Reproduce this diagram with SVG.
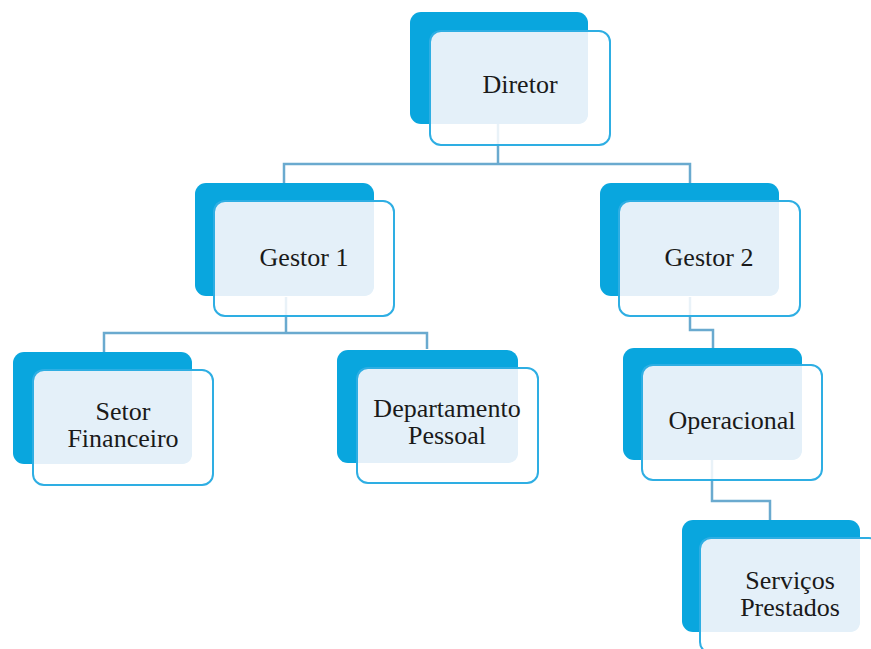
<svg xmlns="http://www.w3.org/2000/svg" width="871" height="649" viewBox="0 0 871 649">
<style>
.back{fill:#09A6DE}
.front{fill:#FFFFFF;fill-opacity:0.85}
.frame{fill:none;stroke:#2EAEE3;stroke-width:2}
.light{fill:#E4F0F9}
.conn{fill:none;stroke:#6AAACF;stroke-width:2.5}
</style>
<rect width="871" height="649" fill="#FFFFFF"/>
<g id="connectors">
<path class="conn" d="M498,123 V164 M284,183 V164 H690 V183"/>
<path class="conn" d="M286,297 V333 M104,352 V333 H427 V349"/>
<path class="conn" d="M690,297 V330 H713 V348"/>
<path class="conn" d="M712,460 V501 H770 V520"/>
</g>
<g id="n-diretor">
<rect class="back" x="410" y="12" width="178" height="112" rx="11"/>
<rect class="front" x="430" y="31" width="180" height="114" rx="11"/>
<path class="light" d="M441,31 H588 V113 Q588,124 577,124 H430 V42 Q430,31 441,31 Z"/>
<rect class="frame" x="430" y="31" width="180" height="114" rx="11"/>
<text x="520" y="93" font-family="Liberation Serif" font-size="26" text-anchor="middle" fill="#1a1a1a">Diretor</text>
</g>
<g id="n-gestor1">
<rect class="back" x="195" y="183" width="179" height="113" rx="11"/>
<rect class="front" x="214" y="201" width="180" height="115" rx="11"/>
<path class="light" d="M225,201 H374 V285 Q374,296 363,296 H214 V212 Q214,201 225,201 Z"/>
<rect class="frame" x="214" y="201" width="180" height="115" rx="11"/>
<text x="304" y="266" font-family="Liberation Serif" font-size="26" text-anchor="middle" fill="#1a1a1a">Gestor 1</text>
</g>
<g id="n-gestor2">
<rect class="back" x="600" y="183" width="179" height="113" rx="11"/>
<rect class="front" x="619" y="201" width="181" height="115" rx="11"/>
<path class="light" d="M630,201 H779 V285 Q779,296 768,296 H619 V212 Q619,201 630,201 Z"/>
<rect class="frame" x="619" y="201" width="181" height="115" rx="11"/>
<text x="709" y="266" font-family="Liberation Serif" font-size="26" text-anchor="middle" fill="#1a1a1a">Gestor 2</text>
</g>
<g id="n-setor">
<rect class="back" x="13" y="352" width="179" height="112" rx="11"/>
<rect class="front" x="33" y="370" width="180" height="115" rx="11"/>
<path class="light" d="M44,370 H192 V453 Q192,464 181,464 H33 V381 Q33,370 44,370 Z"/>
<rect class="frame" x="33" y="370" width="180" height="115" rx="11"/>
<text x="123" y="420" font-family="Liberation Serif" font-size="26" text-anchor="middle" fill="#1a1a1a">Setor</text>
<text x="123" y="447" font-family="Liberation Serif" font-size="26" text-anchor="middle" fill="#1a1a1a">Financeiro</text>
</g>
<g id="n-depto">
<rect class="back" x="337" y="350" width="181" height="113" rx="11"/>
<rect class="front" x="357" y="368" width="181" height="115" rx="11"/>
<path class="light" d="M368,368 H518 V452 Q518,463 507,463 H357 V379 Q357,368 368,368 Z"/>
<rect class="frame" x="357" y="368" width="181" height="115" rx="11"/>
<text x="447" y="417" font-family="Liberation Serif" font-size="26" text-anchor="middle" fill="#1a1a1a">Departamento</text>
<text x="447" y="444" font-family="Liberation Serif" font-size="26" text-anchor="middle" fill="#1a1a1a">Pessoal</text>
</g>
<g id="n-operacional">
<rect class="back" x="623" y="348" width="179" height="112" rx="11"/>
<rect class="front" x="642" y="365" width="180" height="115" rx="11"/>
<path class="light" d="M653,365 H802 V449 Q802,460 791,460 H642 V376 Q642,365 653,365 Z"/>
<rect class="frame" x="642" y="365" width="180" height="115" rx="11"/>
<text x="732" y="429" font-family="Liberation Serif" font-size="26" text-anchor="middle" fill="#1a1a1a">Operacional</text>
</g>
<g id="n-servicos">
<rect class="back" x="682" y="520" width="178" height="112" rx="11"/>
<rect class="front" x="700" y="538" width="180" height="115" rx="11"/>
<path class="light" d="M711,538 H860 V621 Q860,632 849,632 H700 V549 Q700,538 711,538 Z"/>
<rect class="frame" x="700" y="538" width="180" height="115" rx="11"/>
<text x="790" y="589" font-family="Liberation Serif" font-size="26" text-anchor="middle" fill="#1a1a1a">Serviços</text>
<text x="790" y="616" font-family="Liberation Serif" font-size="26" text-anchor="middle" fill="#1a1a1a">Prestados</text>
</g>
</svg>
